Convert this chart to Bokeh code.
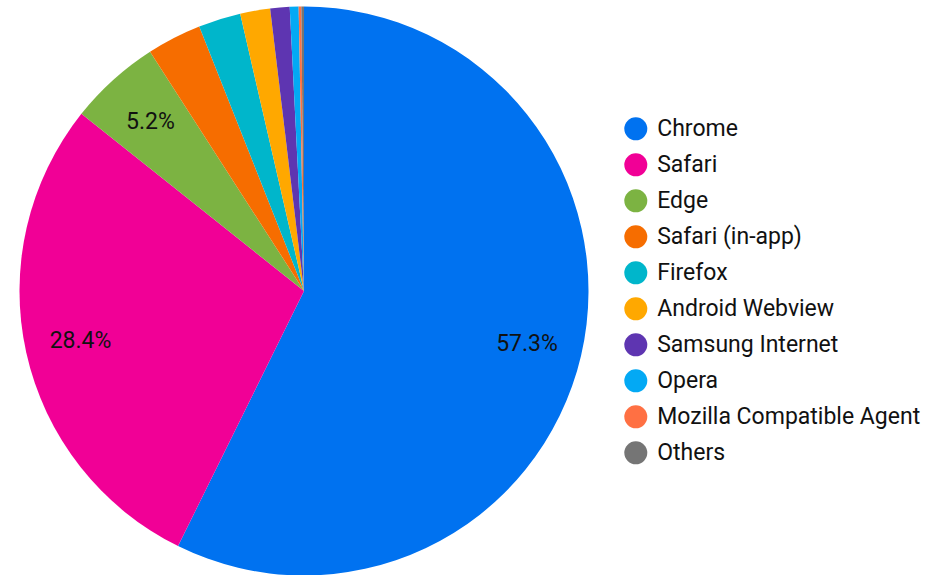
import math
from bokeh.plotting import figure
from bokeh.models import Range1d, ColumnDataSource
from bokeh.core.properties import value
from bokeh.embed import file_html
from bokeh.resources import INLINE

browsers = ["Chrome", "Safari", "Edge", "Safari (in-app)", "Firefox",
            "Android Webview", "Samsung Internet", "Opera",
            "Mozilla Compatible Agent", "Others"]
shares = [57.3, 28.4, 5.2, 3.1, 2.4, 1.7, 1.1, 0.5, 0.15, 0.15]
colors = ["#0072f0", "#f10096", "#7cb342", "#f66d00", "#00b6cb",
          "#ffa800", "#5e35b1", "#03a9f4", "#ff7043", "#757575"]

W, H = 947, 575
cx, cy, R = 303.5, H - 290.5, 284.5

total = sum(shares)
starts, ends, lx, ly, labels = [], [], [], [], []
cum = 0.0
for s in shares:
    a0 = math.pi / 2 - 2 * math.pi * cum / total
    cum += s
    a1 = math.pi / 2 - 2 * math.pi * cum / total
    starts.append(a0)
    ends.append(a1)
    mid = (a0 + a1) / 2
    lx.append(cx + 0.805 * R * math.cos(mid))
    ly.append(cy + 0.805 * R * math.sin(mid))
    labels.append(f"{s:.1f}%" if s / total > 0.05 else "")

src = ColumnDataSource(dict(start=starts, end=ends, color=colors, name=browsers,
                            lx=lx, ly=ly, label=labels))

p = figure(width=W, height=H, output_backend="svg", toolbar_location=None,
           x_range=Range1d(0, W), y_range=Range1d(0, H), min_border=0)
p.axis.visible = False
p.grid.visible = False
p.outline_line_color = None
p.background_fill_color = "white"

p.wedge(x=cx, y=cy, radius=R, start_angle="start", end_angle="end",
        direction="clock", fill_color="color", line_color=None, source=src)

p.text(x="lx", y="ly", text="label", source=src, text_align="center",
       text_baseline="middle", text_font=value("Roboto"),
       text_font_size="23px", text_color="#111111")

# legend
leg_x = [635.3] * len(browsers)
leg_y = [H - (128.3 + 36 * i) for i in range(len(browsers))]
leg = ColumnDataSource(dict(x=leg_x, y=leg_y, tx=[656.7] * len(browsers),
                            name=browsers, color=colors))
p.scatter(x="x", y="y", size=23, marker="circle", fill_color="color",
          line_color=None, source=leg)
p.text(x="tx", y="y", text="name", source=leg, text_align="left",
       text_baseline="middle", text_font=value("Roboto"),
       text_font_size="23px", text_color="#111111")

open("out.html", "w").write(file_html(p, INLINE))
